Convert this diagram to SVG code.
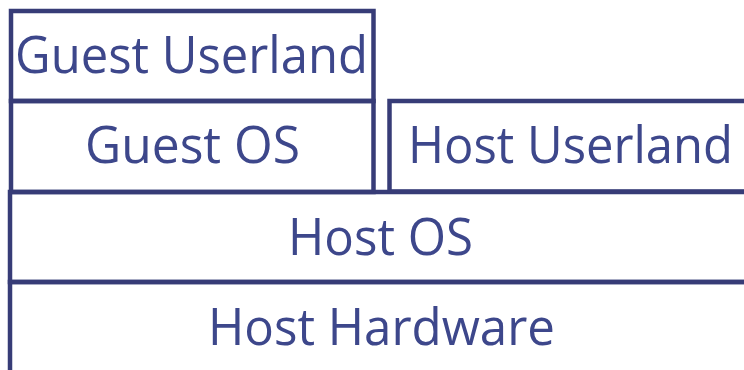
<svg xmlns="http://www.w3.org/2000/svg" width="744" height="370" viewBox="0 0 744 370">
<style>
.box{fill:none;stroke:#373c77;stroke-width:4.5}
.t{font-family:"Open Sans","Liberation Sans",sans-serif;font-size:52px;fill:#3d478b;text-anchor:middle}
</style>
<rect width="744" height="370" fill="#ffffff"/>
<g id="host-hardware">
<rect class="box" x="10" y="282" width="742" height="100"/>
<text class="t" x="381.5" y="345" textLength="347" lengthAdjust="spacingAndGlyphs">Host Hardware</text>
</g>
<g id="host-os">
<rect class="box" x="10" y="192" width="742" height="90"/>
<text class="t" x="380.5" y="255" textLength="185" lengthAdjust="spacingAndGlyphs">Host OS</text>
</g>
<g id="guest-os">
<rect class="box" x="11" y="101" width="362.5" height="91"/>
<text class="t" x="192.5" y="163" textLength="215" lengthAdjust="spacingAndGlyphs">Guest OS</text>
</g>
<g id="guest-userland">
<rect class="box" x="11" y="11" width="362.5" height="90"/>
<text class="t" x="191.5" y="73" textLength="353" lengthAdjust="spacingAndGlyphs">Guest Userland</text>
</g>
<g id="host-userland">
<rect class="box" x="389.5" y="101" width="362" height="90.5"/>
<text class="t" x="570.5" y="163" textLength="325" lengthAdjust="spacingAndGlyphs">Host Userland</text>
</g>
<g id="connectors"></g>
</svg>
